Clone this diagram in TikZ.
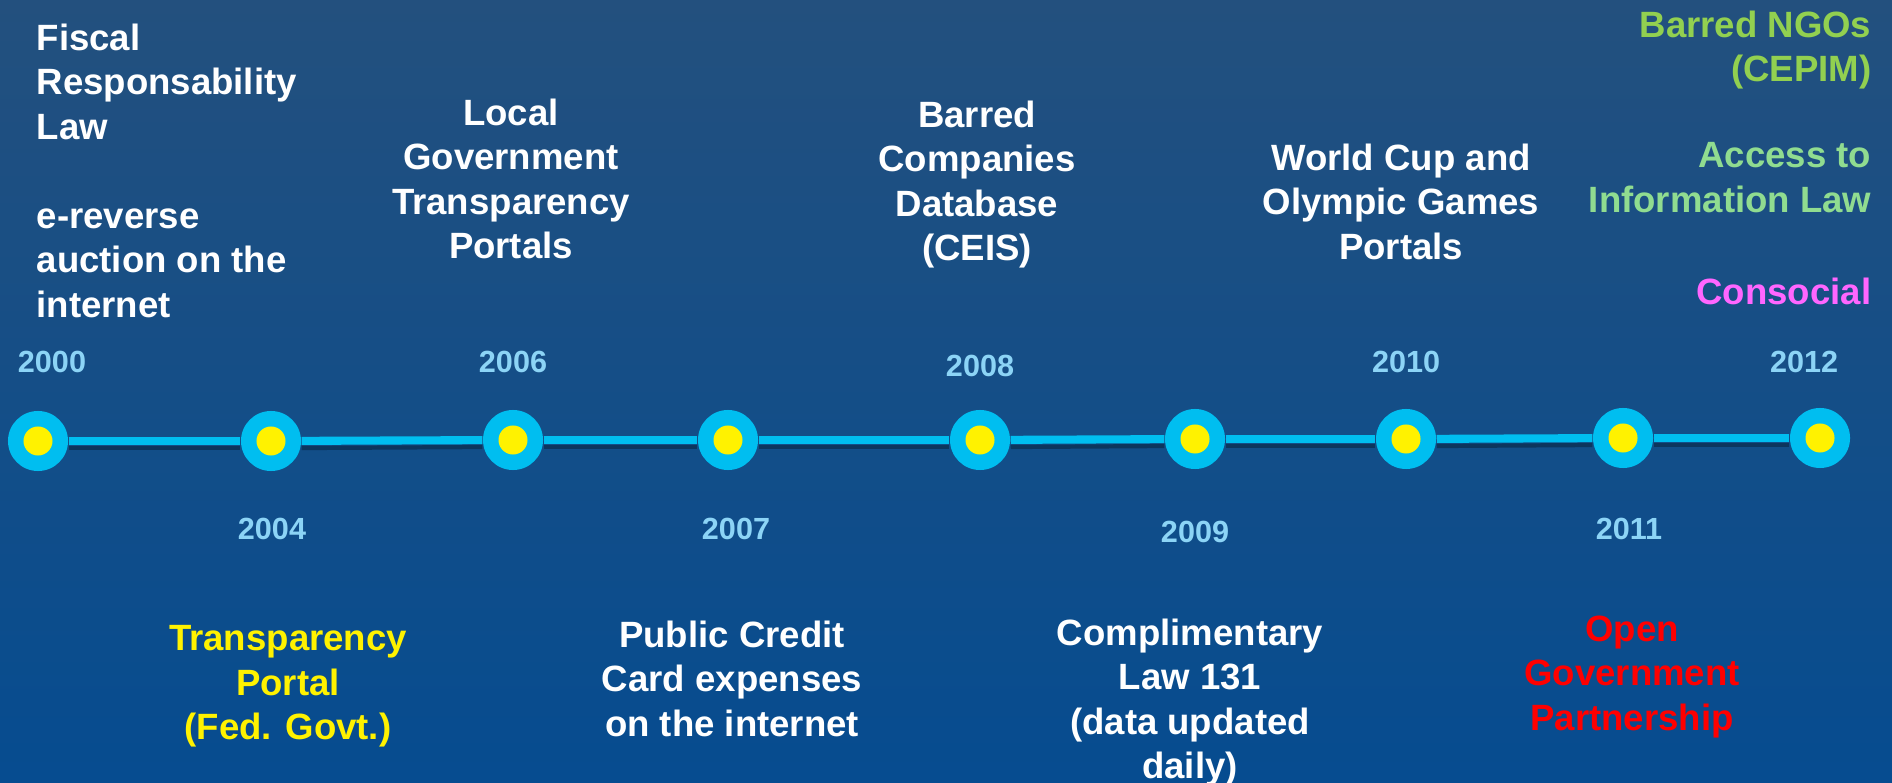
\documentclass[tikz,border=0pt]{standalone}
\usepackage{fontspec}
\setmainfont{Liberation Sans}
\usetikzlibrary{positioning}
\usepackage{xcolor}

\definecolor{bgtop}{RGB}{35,80,126}
\definecolor{bgbottom}{RGB}{6,76,144}
\definecolor{ringblue}{RGB}{0,190,240}
\definecolor{yearblue}{RGB}{140,212,246}
\definecolor{ngogreen}{RGB}{146,208,80}
\definecolor{lawgreen}{RGB}{144,220,144}
\definecolor{consocialpink}{RGB}{255,102,255}

\tikzset{
  milestone/.style={circle, fill=ringblue, minimum size=0.6cm, inner sep=0,
    path picture={\fill[yellow] (path picture bounding box.center) circle (0.145cm);}},
  timeline/.style={ringblue, line width=2.3pt},
  lineshadow/.style={black, opacity=0.3, line width=1.2pt},
  year/.style={text=yearblue, font=\bfseries\fontsize{8.7}{10}\selectfont, inner sep=0},
  event/.style={text=white, font=\bfseries\fontsize{10.4}{12.66}\selectfont, inner sep=0, align=center}
}

\begin{document}
\begin{tikzpicture}[x=0.01cm, y=-0.01cm]

        % Background
        \useasboundingbox (0,0) rectangle (1892,783);
        \shade[top color=bgtop, bottom color=bgbottom] (0,0) rectangle (1892,783);

        % Milestones
        \foreach \yr/\px/\py in {2000/38/441, 2004/271/441, 2006/513/440, 2007/728/440, 2008/980/440,
                                 2009/1195/439, 2010/1406/439, 2011/1623/438, 2012/1820/438}
        {
          \node[milestone] (c\yr) at (\px,\py) {};
        }

        % Timeline
        \foreach \a/\b in {2000/2004, 2004/2006, 2006/2007, 2007/2008, 2008/2009,
                           2009/2010, 2010/2011, 2011/2012}
        {
          \draw[lineshadow] ([yshift=-2pt]c\a.east) -- ([yshift=-2pt]c\b.west);
          \draw[timeline] (c\a) -- (c\b);
        }

        % Years
        \foreach \yr/\px/\py in {2000/52/362, 2004/272/529, 2006/513/362, 2007/736/529, 2008/980/366,
                                 2009/1195/532, 2010/1406/362, 2011/1629/529, 2012/1804/362}
        {
          \node[year] (y\yr) at (\px,\py) {\yr};
        }

        % Events above the line
        \node[event, anchor=north west, align=left] (fiscal) at (36,23)
          {Fiscal\\Responsability\\Law\\[12.66pt]e-reverse\\auction on the\\internet};
        \node[event, anchor=north] (local) at (511,98) {Local\\Government\\Transparency\\Portals};
        \node[event, anchor=north] (ceis) at (977,100) {Barred\\Companies\\Database\\(CEIS)};
        \node[event, anchor=north] (worldcup) at (1401,143) {World Cup and\\Olympic Games\\Portals};
        \node[event, anchor=north east, align=right, text=ngogreen] (cepim) at (1872,10) {Barred NGOs\\(CEPIM)};
        \node[event, anchor=north east, align=right, text=lawgreen] (accesslaw) at (1872,142) {Access to\\Information Law};
        \node[event, anchor=north east, text=consocialpink] (consocial) at (1872,277) {Consocial};

        % Events below the line
        \node[event, anchor=north, text=yellow] (portal) at (288,625) {Transparency\\Portal\\(Fed. Govt.)};
        \node[event, anchor=north] (creditcard) at (732,620) {Public Credit\\Card expenses\\on the internet};
        \node[event, anchor=north] (lc131) at (1190,618) {Complimentary\\Law 131\\(data updated\\daily)};
        \node[event, anchor=north, text=red] (ogp) at (1632,615) {Open\\Government\\Partnership};

\end{tikzpicture}
\end{document}
